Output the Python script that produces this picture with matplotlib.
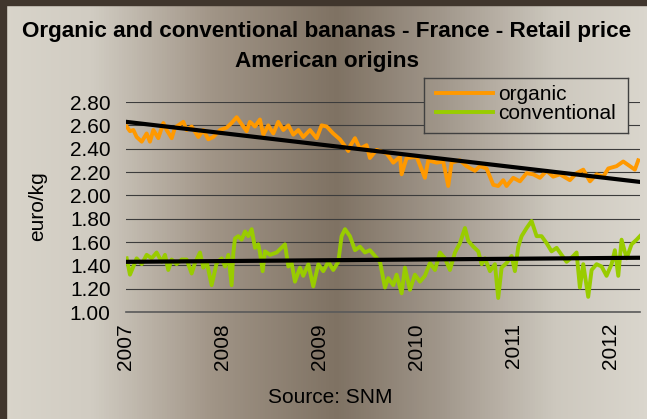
import numpy as np
import matplotlib.pyplot as plt
from matplotlib.colors import LinearSegmentedColormap
from matplotlib.patches import Rectangle

plt.rcParams['font.family'] = ['Liberation Sans', 'DejaVu Sans']

# organic bananas, retail price (euro/kg)
organic_year = [2007.007, 2007.041, 2007.076, 2007.110, 2007.162, 2007.213, 2007.247, 2007.282,
                2007.333, 2007.385, 2007.419, 2007.471, 2007.505, 2007.591, 2007.625, 2007.677,
                2007.746, 2007.797, 2007.849, 2007.900, 2007.969, 2008.038, 2008.089, 2008.141,
                2008.175, 2008.244, 2008.278, 2008.330, 2008.381, 2008.416, 2008.467, 2008.519,
                2008.570, 2008.622, 2008.674, 2008.725, 2008.777, 2008.828, 2008.897, 2008.966,
                2009.017, 2009.069, 2009.137, 2009.206, 2009.251, 2009.292,
                2009.309, 2009.361, 2009.412, 2009.481, 2009.515, 2009.584, 2009.687, 2009.756,
                2009.825, 2009.842, 2009.893, 2009.997, 2010.082, 2010.117, 2010.203, 2010.271,
                2010.323, 2010.357, 2010.443, 2010.512, 2010.598, 2010.649, 2010.718, 2010.787,
                2010.838, 2010.890, 2010.924, 2010.993, 2011.062, 2011.131, 2011.199, 2011.268,
                2011.337, 2011.405, 2011.474, 2011.577, 2011.646, 2011.715, 2011.784, 2011.852,
                2011.921, 2011.973, 2012.058, 2012.127, 2012.196, 2012.247, 2012.282]
organic = [2.59, 2.55, 2.56, 2.50, 2.46, 2.53, 2.46, 2.56,
           2.49, 2.62, 2.56, 2.49, 2.58, 2.63, 2.56, 2.59,
           2.50, 2.56, 2.48, 2.50, 2.56, 2.58, 2.62, 2.67,
           2.63, 2.55, 2.63, 2.59, 2.65, 2.52, 2.60, 2.53,
           2.63, 2.56, 2.60, 2.52, 2.56, 2.50, 2.56, 2.49,
           2.60, 2.59, 2.53, 2.48, 2.43, 2.38,
           2.42, 2.49, 2.40, 2.43, 2.32, 2.39, 2.36, 2.28,
           2.33, 2.18, 2.32, 2.33, 2.15, 2.30, 2.28, 2.29,
           2.08, 2.28, 2.30, 2.25, 2.21, 2.25, 2.23, 2.09,
           2.08, 2.13, 2.08, 2.15, 2.12, 2.19, 2.18, 2.15,
           2.21, 2.16, 2.18, 2.13, 2.19, 2.22, 2.12, 2.18,
           2.16, 2.23, 2.25, 2.29, 2.25, 2.22, 2.30]

# conventional bananas, retail price (euro/kg)
conv_year = [2007.007, 2007.041, 2007.076, 2007.110, 2007.162, 2007.213, 2007.265, 2007.316,
             2007.368, 2007.402, 2007.436, 2007.471, 2007.522, 2007.574, 2007.625, 2007.677,
             2007.711, 2007.763, 2007.797, 2007.832, 2007.883, 2007.935, 2007.986, 2008.021,
             2008.055, 2008.089, 2008.107, 2008.124, 2008.158, 2008.192, 2008.227, 2008.261,
             2008.296, 2008.330, 2008.364, 2008.381, 2008.409, 2008.433, 2008.485, 2008.553,
             2008.639, 2008.674, 2008.708, 2008.742, 2008.794, 2008.828, 2008.880, 2008.931,
             2008.983, 2009.034, 2009.086, 2009.137, 2009.189, 2009.223, 2009.258,
             2009.309, 2009.361, 2009.412, 2009.464, 2009.515, 2009.567, 2009.619, 2009.670,
             2009.704, 2009.756, 2009.790, 2009.842, 2009.876, 2009.928, 2009.979, 2010.031,
             2010.082, 2010.134, 2010.186, 2010.237, 2010.289, 2010.340, 2010.392, 2010.443,
             2010.495, 2010.529, 2010.581, 2010.632, 2010.667, 2010.701, 2010.753, 2010.804,
             2010.838, 2010.873, 2010.924, 2010.976, 2011.010, 2011.045, 2011.079, 2011.131,
             2011.182, 2011.234, 2011.285, 2011.337, 2011.388, 2011.440, 2011.491, 2011.543,
             2011.612, 2011.646, 2011.680, 2011.715, 2011.766, 2011.801, 2011.852, 2011.904,
             2011.955, 2012.007, 2012.041, 2012.076, 2012.110, 2012.162, 2012.213, 2012.265,
             2012.299]
conventional = [1.46, 1.32, 1.39, 1.46, 1.41, 1.49, 1.46, 1.51,
                1.43, 1.49, 1.36, 1.45, 1.41, 1.45, 1.45, 1.33,
                1.42, 1.51, 1.38, 1.43, 1.23, 1.42, 1.46, 1.39,
                1.49, 1.23, 1.51, 1.63, 1.65, 1.62, 1.69, 1.65,
                1.71, 1.55, 1.58, 1.51, 1.35, 1.52, 1.49, 1.51,
                1.58, 1.39, 1.42, 1.26, 1.38, 1.31, 1.41, 1.22,
                1.41, 1.35, 1.43, 1.36, 1.43, 1.65, 1.71,
                1.65, 1.53, 1.56, 1.51, 1.53, 1.48, 1.43, 1.21,
                1.29, 1.23, 1.32, 1.16, 1.38, 1.19, 1.32, 1.26,
                1.31, 1.42, 1.36, 1.51, 1.46, 1.36, 1.51, 1.59,
                1.72, 1.61, 1.56, 1.52, 1.41, 1.46, 1.35, 1.41,
                1.12, 1.38, 1.42, 1.48, 1.35, 1.56, 1.65, 1.72,
                1.78, 1.65, 1.65, 1.59, 1.52, 1.55, 1.49, 1.43,
                1.48, 1.51, 1.21, 1.41, 1.13, 1.36, 1.41, 1.39,
                1.31, 1.41, 1.53, 1.31, 1.62, 1.46, 1.58, 1.62,
                1.65]

# linear trend lines (start 2007, end 2012.3)
trend_year = [2007.0, 2012.3]
organic_trend = [2.63, 2.115]
conv_trend = [1.43, 1.465]

year_ticks = [2007, 2008, 2009, 2010, 2011, 2012]
price_ticks = [1.00, 1.20, 1.40, 1.60, 1.80, 2.00, 2.20, 2.40, 2.60, 2.80]

W, H = 647, 419
fig = plt.figure(figsize=(W / 100, H / 100), dpi=100)

# gradient background
bg_cmap = LinearSegmentedColormap.from_list('bg', [
    (0.0, '#d9d5cb'), (0.14, '#d1ccc2'), (0.33, '#a09486'), (0.52, '#7f7263'),
    (0.68, '#a0968a'), (0.86, '#cdc8be'), (1.0, '#dad6cd')])
bg = fig.add_axes([0, 0, 1, 1], zorder=-10)
bg.imshow(np.linspace(0, 1, W)[None, :], aspect='auto', cmap=bg_cmap,
          extent=[0, W, 0, H], vmin=0, vmax=1)
bg.add_patch(Rectangle((0, 0), 6, H, color='#40362d'))
bg.add_patch(Rectangle((0, H - 5), W, 5, color='#40362d'))
bg.set_xlim(0, W)
bg.set_ylim(0, H)
bg.axis('off')

ax = fig.add_axes([126 / W, (H - 312) / H, (640 - 126) / W, (312 - 102) / H])
ax.patch.set_alpha(0)
l1, = ax.plot(organic_year, organic, color='#ff9900', lw=2.8, solid_joinstyle='round')
l2, = ax.plot(conv_year, conventional, color='#99cc00', lw=2.8, solid_joinstyle='round')
ax.plot(trend_year, organic_trend, color='black', lw=3)
ax.plot(trend_year, conv_trend, color='black', lw=3)

ax.set_xlim(2007, 2012.3)
ax.set_ylim(1.0, 2.8)
ax.set_yticks(price_ticks)
ax.set_yticklabels(['%.2f' % v for v in price_ticks])
ax.set_xticks(year_ticks)
ax.set_xticklabels([str(y) for y in year_ticks], rotation=90)
ax.yaxis.grid(True, color='#3c3c3c', lw=0.8)
ax.set_axisbelow(True)
ax.tick_params(axis='y', length=0, pad=11, labelsize=15)
ax.tick_params(axis='x', length=0, pad=8, labelsize=15)
for s in ['left', 'top', 'right']:
    ax.spines[s].set_visible(False)
ax.spines['bottom'].set_color('#5a5a5a')
ax.spines['bottom'].set_linewidth(1.2)

fig.text(327 / W, 1 - 31 / H, 'Organic and conventional bananas - France - Retail price',
         ha='center', va='center', fontsize=16.2, fontweight='bold')
fig.text(327 / W, 1 - 61 / H, 'American origins',
         ha='center', va='center', fontsize=16.2, fontweight='bold')
fig.text(38 / W, 1 - 206 / H, 'euro/kg', rotation=90, ha='center', va='center', fontsize=15)
fig.text(330 / W, 1 - 397 / H, 'Source: SNM', ha='center', va='center', fontsize=15)

# legend box with its own piece of the gradient
lx0, lx1, ly0, ly1 = 424, 628, 78, 133
lax = fig.add_axes([lx0 / W, (H - ly1) / H, (lx1 - lx0) / W, (ly1 - ly0) / H], zorder=5)
lax.imshow(np.linspace(lx0 / W, lx1 / W, lx1 - lx0)[None, :], aspect='auto', cmap=bg_cmap,
           vmin=0, vmax=1)
lax.set_xticks([])
lax.set_yticks([])
for s in lax.spines.values():
    s.set_color('#404040')
    s.set_linewidth(1)
lax.legend([l1, l2], ['organic', 'conventional'], loc='center', bbox_to_anchor=(0.5, 0.53),
           frameon=False, fontsize=15, handlelength=2.7, handletextpad=0.25,
           labelspacing=0.0, borderpad=0)

fig.savefig('out.png', dpi=100)
